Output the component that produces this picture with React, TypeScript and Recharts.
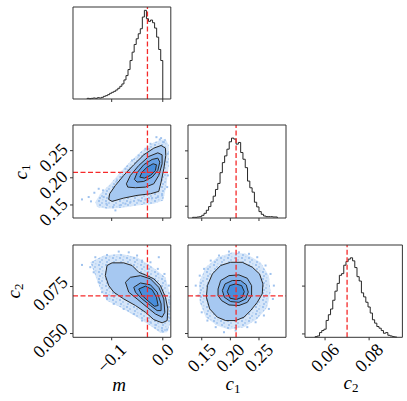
import React from 'react';
import { ComposedChart, Scatter, XAxis, YAxis } from 'recharts';

const FONT = '"Liberation Serif", "Times New Roman", serif';
const FS = 18;

// ---------- truths ----------
const TRUTH_M = -0.03;
const TRUTH_C1 = 0.21;
const TRUTH_C2 = 0.07;

// ---------- axis domains & ticks ----------
const M_DOMAIN: [number, number] = [-0.1757, 0.0157];
const C1_DOMAIN: [number, number] = [0.126, 0.2972];
const C2_X_DOMAIN: [number, number] = [0.0509, 0.0951];
const C2_Y_DOMAIN: [number, number] = [0.048, 0.0971];

const M_TICKS = [-0.1, 0.0];
const M_TICK_LABELS = ['−0.1', '0.0'];
const C1_TICKS = [0.15, 0.2, 0.25];
const C1_TICK_LABELS = ['0.15', '0.20', '0.25'];
const C2_X_TICKS = [0.06, 0.08];
const C2_X_TICK_LABELS = ['0.06', '0.08'];
const C2_Y_TICKS = [0.05, 0.075];
const C2_Y_TICK_LABELS = ['0.050', '0.075'];

// ---------- 1D histograms ----------
const M_HIST_START = -0.148;
const M_HIST_BIN = 0.004;
const M_HIST = [2, 1, 2, 3, 2, 4, 3, 5, 8, 10, 13, 17, 20, 23, 27, 32, 38, 45, 57, 70, 88, 115, 140, 163, 180, 195, 210, 245, 265, 240, 232, 236, 228, 212, 185, 148, 115];
const M_HIST_TOP = 275;

const C1_HIST_START = 0.134;
const C1_HIST_BIN = 0.004;
const C1_HIST = [2, 2, 3, 4, 8, 14, 23, 34, 48, 65, 85, 103, 135, 165, 185, 205, 227, 238, 235, 220, 225, 195, 175, 150, 110, 90, 77, 47, 33, 19, 11, 6, 4, 4, 4, 3, 3];
const C1_HIST_TOP = 277;
const C1_HIST_TICKS = [35, 118, 200];

const C2_HIST_START = 0.0555;
const C2_HIST_BIN = 0.001;
const C2_HIST = [2, 4, 14, 20, 24, 50, 67, 84, 110, 137, 160, 184, 189, 214, 225, 232, 236, 227, 207, 180, 167, 132, 120, 104, 90, 72, 52, 42, 32, 27, 20, 12, 14, 6, 4, 2, 1];
const C2_HIST_TOP = 274;
const C2_HIST_TICKS = [10, 152];

// ---------- 2D: c1 vs m ----------
const A_HALO = [[-0.132, 0.1553], [-0.1222, 0.1706], [-0.1025, 0.189], [-0.0829, 0.2105], [-0.0633, 0.2301], [-0.0405, 0.2503], [-0.0176, 0.2656], [0.0053, 0.2718], [0.0118, 0.2595], [0.0118, 0.2227], [0.0072, 0.186], [0.0007, 0.1584], [-0.0176, 0.1523], [-0.0503, 0.1492], [-0.0829, 0.1443], [-0.1091, 0.1431], [-0.1287, 0.1461]];
const A_DOTS = [[-0.1581, 0.1602], [-0.145, 0.1646], [-0.1405, 0.1566], [-0.1339, 0.1725], [-0.1254, 0.1798], [-0.1169, 0.1768], [-0.1156, 0.1646], [-0.1104, 0.1523], [-0.0973, 0.1461], [-0.0927, 0.14], [-0.0842, 0.1492], [-0.0731, 0.1523], [-0.0633, 0.1553], [-0.047, 0.1584], [-0.0339, 0.1602], [-0.0209, 0.1627], [-0.0097, 0.1646], [-0.0013, 0.1676], [0.0086, 0.1829], [0.0099, 0.2044], [0.0086, 0.2289], [0.0099, 0.2442], [0.002, 0.2656], [-0.0058, 0.2705], [-0.0033, 0.273], [-0.0124, 0.2748], [-0.0241, 0.2626], [-0.0339, 0.2534], [-0.047, 0.2411], [-0.0601, 0.2319], [-0.0731, 0.2166], [-0.0829, 0.2013], [-0.0895, 0.1952]];
const A_L0 = [[-0.1058, 0.1602], [-0.1039, 0.1706], [-0.0927, 0.186], [-0.0764, 0.2044], [-0.0568, 0.224], [-0.0372, 0.2423], [-0.0176, 0.2546], [-0.0033, 0.2595], [0.0053, 0.2546], [0.0059, 0.2411], [0.002, 0.2166], [-0.0033, 0.1921], [-0.0078, 0.175], [-0.0241, 0.1706], [-0.0503, 0.1676], [-0.0764, 0.1627], [-0.0993, 0.1566]];
const A_L1 = [[-0.0712, 0.189], [-0.0633, 0.2044], [-0.047, 0.2227], [-0.0274, 0.2393], [-0.0097, 0.246], [-0.0013, 0.2423], [-0.0013, 0.2258], [-0.0078, 0.2044], [-0.0176, 0.189], [-0.0339, 0.1829], [-0.0535, 0.1817], [-0.0686, 0.1829]];
const A_L2 = [[-0.0555, 0.197], [-0.0503, 0.2093], [-0.0372, 0.224], [-0.0209, 0.2338], [-0.0097, 0.2362], [-0.0058, 0.2289], [-0.0097, 0.2135], [-0.0209, 0.2013], [-0.0372, 0.1933], [-0.0503, 0.1921]];
const A_L3 = [[-0.045, 0.2013], [-0.0405, 0.2105], [-0.0307, 0.2197], [-0.0189, 0.2258], [-0.0124, 0.224], [-0.0144, 0.2135], [-0.0241, 0.2044], [-0.0359, 0.1994]];

// ---------- 2D: c2 vs m ----------
const B_HALO = [[-0.1418, 0.0879], [-0.1156, 0.0915], [-0.0829, 0.0924], [-0.0503, 0.0906], [-0.0241, 0.0862], [0.0053, 0.0799], [0.015, 0.0702], [0.015, 0.056], [0.0086, 0.0507], [-0.0046, 0.0503], [-0.0241, 0.0542], [-0.0503, 0.0587], [-0.0829, 0.064], [-0.1091, 0.0675], [-0.1222, 0.0737], [-0.132, 0.0808]];
const B_DOTS = [[-0.1581, 0.0865], [-0.132, 0.0906], [-0.1091, 0.0918], [-0.0862, 0.0936], [-0.0666, 0.0932], [-0.0503, 0.0915], [-0.0405, 0.0888], [-0.0241, 0.0879], [-0.0097, 0.0844], [0.0033, 0.0817], [0.0118, 0.0755], [0.0125, 0.0666], [0.0105, 0.0587], [0.0086, 0.0521], [-0.0013, 0.0516], [-0.0144, 0.0546], [-0.0241, 0.056], [-0.0405, 0.0569], [-0.0568, 0.0604], [-0.0764, 0.0631], [-0.096, 0.0658], [-0.1091, 0.0684], [-0.1189, 0.072], [-0.1254, 0.0773], [-0.1352, 0.0826], [-0.1418, 0.0853], [-0.0078, 0.0906]];
const B_L0 = [[-0.1091, 0.0862], [-0.0993, 0.0876], [-0.0764, 0.0876], [-0.0601, 0.0862], [-0.047, 0.0826], [-0.0307, 0.0808], [-0.0176, 0.0791], [-0.0046, 0.0755], [0.0053, 0.0693], [0.0099, 0.0631], [0.0086, 0.0569], [-0.0013, 0.0557], [-0.0176, 0.0574], [-0.0339, 0.0613], [-0.0535, 0.0649], [-0.0764, 0.0684], [-0.096, 0.072], [-0.1058, 0.0755], [-0.1124, 0.0808]];
const B_L1 = [[-0.0731, 0.0773], [-0.0633, 0.0799], [-0.0437, 0.0808], [-0.0241, 0.0791], [-0.0078, 0.0746], [0.002, 0.0684], [0.004, 0.0613], [-0.0013, 0.0587], [-0.0144, 0.0604], [-0.0307, 0.064], [-0.0503, 0.0684], [-0.0666, 0.072]];
const B_L2 = [[-0.0568, 0.0746], [-0.0437, 0.0769], [-0.0241, 0.0759], [-0.011, 0.072], [-0.0033, 0.0658], [-0.0033, 0.0622], [-0.011, 0.0622], [-0.0241, 0.0649], [-0.0405, 0.0684], [-0.0535, 0.072]];
const B_L3 = [[-0.047, 0.0737], [-0.0339, 0.0752], [-0.0209, 0.0734], [-0.0124, 0.0693], [-0.0091, 0.0649], [-0.0163, 0.0645], [-0.0274, 0.067], [-0.0405, 0.0702]];

// ---------- 2D: c2 vs c1 ----------
const C_HALO = [[0.1454, 0.0773], [0.157, 0.0853], [0.1773, 0.0906], [0.2034, 0.0932], [0.2267, 0.0924], [0.2528, 0.0879], [0.2673, 0.0808], [0.2702, 0.072], [0.2644, 0.064], [0.247, 0.0578], [0.2238, 0.0534], [0.1976, 0.0521], [0.1773, 0.0542], [0.157, 0.0587], [0.1465, 0.0666]];
const C_DOTS = [[0.1395, 0.0755], [0.1465, 0.0808], [0.1541, 0.0844], [0.1657, 0.0888], [0.1802, 0.0915], [0.1976, 0.0936], [0.215, 0.0932], [0.2325, 0.0924], [0.247, 0.0906], [0.2615, 0.0862], [0.2702, 0.0817], [0.276, 0.0755], [0.2743, 0.0684], [0.2673, 0.0631], [0.2586, 0.0596], [0.2441, 0.056], [0.2296, 0.0534], [0.2092, 0.0516], [0.1889, 0.0507], [0.1744, 0.0534], [0.1599, 0.0569], [0.15, 0.0613], [0.1442, 0.0702]];
const C_L0 = [[0.1599, 0.0755], [0.1686, 0.0817], [0.1831, 0.0862], [0.2005, 0.0879], [0.2208, 0.0879], [0.2383, 0.0853], [0.251, 0.0817], [0.2569, 0.0764], [0.2557, 0.0711], [0.247, 0.0666], [0.2354, 0.0622], [0.2238, 0.0587], [0.2092, 0.0569], [0.1918, 0.0569], [0.1773, 0.0587], [0.1639, 0.0631], [0.1581, 0.0693]];
const C_L1 = [[0.1785, 0.0737], [0.1831, 0.0782], [0.1976, 0.0808], [0.215, 0.0812], [0.2296, 0.0794], [0.2371, 0.0755], [0.2371, 0.0702], [0.2296, 0.0666], [0.215, 0.0649], [0.1976, 0.0652], [0.1848, 0.0675], [0.1785, 0.0702]];
const C_L2 = [[0.186, 0.0729], [0.1907, 0.0764], [0.2034, 0.0782], [0.2179, 0.0782], [0.2278, 0.0759], [0.2313, 0.072], [0.2267, 0.0684], [0.215, 0.0666], [0.2005, 0.067], [0.1895, 0.0693]];
const C_L3 = [[0.1947, 0.0723], [0.1988, 0.0755], [0.2092, 0.0764], [0.2197, 0.0755], [0.2243, 0.0723], [0.2208, 0.0693], [0.2104, 0.0681], [0.1994, 0.0688]];

// ---------- styles ----------
const RED = '#f52a2a';
const LINE = '#262626';
const FRAME = '#333333';
const DOT = '#9fc2ee';
const LV = ['#a6c8f1', '#86b4eb', '#66a0e4', '#488ddb'];

// ---------- helpers ----------
type Pt = { x: number; y: number };
const toPts = (arr: number[][]): Pt[] => arr.map(([x, y]) => ({ x, y }));
const closed = (arr: number[][]): Pt[] => {
  const p = toPts(arr);
  return [...p, p[0]];
};
const stepPts = (start: number, bin: number, counts: number[]): Pt[] => {
  const pts: Pt[] = [{ x: start, y: 0 }];
  counts.forEach((c, i) => {
    pts.push({ x: start + i * bin, y: c });
    pts.push({ x: start + (i + 1) * bin, y: c });
  });
  pts.push({ x: start + counts.length * bin, y: 0 });
  return pts;
};

const Empty = () => <g />;
const DotSq = (p: any) => <rect x={p.cx - 1} y={p.cy - 1} width={2} height={2} fill={DOT} />;

const textLen = (s: string) => {
  let L = 0;
  for (const ch of s) L += ch === '.' ? 0.25 : ch === '−' ? 0.564 : 0.5;
  return L * FS;
};
const lookup = (ticks: number[], labels: string[], v: number) => {
  const i = ticks.findIndex((t) => Math.abs(t - v) < 1e-9);
  return i >= 0 ? labels[i] : '';
};
const makeXTick = (ticks: number[], labels: string[]) => (p: any) => {
  const s = lookup(ticks, labels, p.payload.value);
  const box = (textLen(s) + 0.7 * FS) / 2.83;
  const cx = p.x;
  const cy = p.y + 2 + box;
  return (
    <text x={cx} y={cy} transform={`rotate(-45 ${cx} ${cy})`} textAnchor="middle" dominantBaseline="central" fontFamily={FONT} fontSize={FS} fill="#000">
      {s}
    </text>
  );
};
const makeYTick = (ticks: number[], labels: string[]) => (p: any) => {
  const s = lookup(ticks, labels, p.payload.value);
  const box = (textLen(s) + 0.7 * FS) / 2.83;
  const cx = p.x - 1 - box;
  const cy = p.y + 7;
  return (
    <text x={cx} y={cy} transform={`rotate(-45 ${cx} ${cy})`} textAnchor="middle" dominantBaseline="central" fontFamily={FONT} fontSize={FS} fill="#000">
      {s}
    </text>
  );
};

const poly = (key: string, pts: number[][], fill: string, stroke: string, extra: any = {}) => (
  <Scatter key={key} data={closed(pts)} shape={Empty} isAnimationActive={false} line={{ fill, stroke, strokeWidth: 1, strokeLinejoin: 'round', ...extra }} />
);
const vline = (key: string, x: number, yd: [number, number]) => (
  <Scatter key={key} data={[{ x, y: yd[0] }, { x, y: yd[1] }]} shape={Empty} isAnimationActive={false} line={{ stroke: RED, strokeWidth: 1.3, strokeDasharray: '5 2.5', fill: 'none' }} />
);
const hline = (key: string, y: number, xd: [number, number]) => (
  <Scatter key={key} data={[{ x: xd[0], y }, { x: xd[1], y }]} shape={Empty} isAnimationActive={false} line={{ stroke: RED, strokeWidth: 1.3, strokeDasharray: '5 2.5', fill: 'none' }} />
);
const frame = (key: string, xd: [number, number], yd: [number, number]) => (
  <Scatter
    key={key}
    data={[{ x: xd[0], y: yd[0] }, { x: xd[1], y: yd[0] }, { x: xd[1], y: yd[1] }, { x: xd[0], y: yd[1] }, { x: xd[0], y: yd[0] }]}
    shape={Empty}
    isAnimationActive={false}
    line={{ stroke: FRAME, strokeWidth: 1, fill: 'none' }}
  />
);
const hist = (key: string, start: number, bin: number, counts: number[]) => (
  <Scatter key={key} data={stepPts(start, bin, counts)} shape={Empty} isAnimationActive={false} line={{ stroke: LINE, strokeWidth: 1, fill: 'none' }} />
);
const density = (k: string, halo: number[][], dots: number[][], levels: number[][][]) => [
  poly(k + 'h', halo, 'url(#speck)', 'none'),
  <Scatter key={k + 'd'} data={toPts(dots)} shape={DotSq} isAnimationActive={false} />,
  ...levels.map((lv, i) => poly(k + 'l' + i, lv, LV[i], LINE)),
];

// ---------- layout ----------
const COL_L = [72.7, 188.3, 304.6];
const COL_W = [97.8, 98, 97.4];
const ROW_T = [6.5, 124.7, 244.7];
const ROW_H = [92, 93, 92.3];
const PL = 60, PT = 10, PR = 10, PB = 60;

type PanelProps = {
  col: number;
  row: number;
  xd: [number, number];
  yd: [number, number];
  xTicks: number[];
  xLabels?: string[];
  yTicks?: number[];
  yLabels?: string[];
  children: React.ReactNode;
};

function Panel({ col, row, xd, yd, xTicks, xLabels, yTicks, yLabels, children }: PanelProps) {
  const left = COL_L[col], top = ROW_T[row], w = COL_W[col], h = ROW_H[row];
  return (
    <div style={{ position: 'absolute', left: left - PL, top: top - PT }}>
      <ComposedChart width={w + PL + PR} height={h + PT + PB} margin={{ top: PT, right: PR, left: 0, bottom: 0 }}>
        <XAxis
          type="number"
          dataKey="x"
          domain={xd}
          ticks={xTicks}
          interval={0}
          height={PB}
          tickSize={3}
          tickMargin={0}
          axisLine={false}
          tickLine={{ stroke: FRAME }}
          tick={xLabels ? makeXTick(xTicks, xLabels) : Empty}
        />
        <YAxis
          type="number"
          dataKey="y"
          domain={yd}
          ticks={yTicks && yTicks.length ? yTicks : [yd[0]]}
          interval={0}
          width={PL}
          tickSize={3}
          tickMargin={0}
          axisLine={false}
          tickLine={yTicks && yTicks.length ? { stroke: FRAME } : false}
          tick={yLabels ? makeYTick(yTicks || [], yLabels) : Empty}
        />
        {children}
      </ComposedChart>
    </div>
  );
}

export default function App() {
  const mHY: [number, number] = [0, M_HIST_TOP];
  const c1HY: [number, number] = [0, C1_HIST_TOP];
  const c2HY: [number, number] = [0, C2_HIST_TOP];
  return (
    <div style={{ position: 'absolute', left: 0, top: 0, width: 407, height: 401, background: '#fff', overflow: 'hidden' }}>
      <svg width={0} height={0} style={{ position: 'absolute' }}>
        <defs>
          <pattern id="speck" x={0} y={0} width={7} height={7} patternUnits="userSpaceOnUse">
            <rect x={0} y={0} width={7} height={7} fill="#d6e6f9" />
            <rect x={1} y={1} width={2} height={2} fill="#a3c5ef" />
            <rect x={4} y={3} width={2} height={2} fill="#b2cff2" />
            <rect x={2} y={5} width={2} height={2} fill="#a9c9f0" />
            <rect x={5} y={0} width={1.5} height={1.5} fill="#bdd6f4" />
          </pattern>
        </defs>
      </svg>

      {/* m histogram */}
      <Panel col={0} row={0} xd={M_DOMAIN} yd={mHY} xTicks={M_TICKS}>
        {hist('h', M_HIST_START, M_HIST_BIN, M_HIST)}
        {vline('v', TRUTH_M, mHY)}
        {frame('f', M_DOMAIN, mHY)}
      </Panel>

      {/* c1 vs m */}
      <Panel col={0} row={1} xd={M_DOMAIN} yd={C1_DOMAIN} xTicks={M_TICKS} yTicks={C1_TICKS} yLabels={C1_TICK_LABELS}>
        {density('a', A_HALO, A_DOTS, [A_L0, A_L1, A_L2, A_L3])}
        {vline('v', TRUTH_M, C1_DOMAIN)}
        {hline('hl', TRUTH_C1, M_DOMAIN)}
        {frame('f', M_DOMAIN, C1_DOMAIN)}
      </Panel>

      {/* c1 histogram */}
      <Panel col={1} row={1} xd={C1_DOMAIN} yd={c1HY} xTicks={C1_TICKS} yTicks={C1_HIST_TICKS}>
        {hist('h', C1_HIST_START, C1_HIST_BIN, C1_HIST)}
        {vline('v', TRUTH_C1, c1HY)}
        {frame('f', C1_DOMAIN, c1HY)}
      </Panel>

      {/* c2 vs m */}
      <Panel col={0} row={2} xd={M_DOMAIN} yd={C2_Y_DOMAIN} xTicks={M_TICKS} xLabels={M_TICK_LABELS} yTicks={C2_Y_TICKS} yLabels={C2_Y_TICK_LABELS}>
        {density('b', B_HALO, B_DOTS, [B_L0, B_L1, B_L2, B_L3])}
        {vline('v', TRUTH_M, C2_Y_DOMAIN)}
        {hline('hl', TRUTH_C2, M_DOMAIN)}
        {frame('f', M_DOMAIN, C2_Y_DOMAIN)}
      </Panel>

      {/* c2 vs c1 */}
      <Panel col={1} row={2} xd={C1_DOMAIN} yd={C2_Y_DOMAIN} xTicks={C1_TICKS} xLabels={C1_TICK_LABELS} yTicks={C2_Y_TICKS}>
        {density('c', C_HALO, C_DOTS, [C_L0, C_L1, C_L2, C_L3])}
        {vline('v', TRUTH_C1, C2_Y_DOMAIN)}
        {hline('hl', TRUTH_C2, C1_DOMAIN)}
        {frame('f', C1_DOMAIN, C2_Y_DOMAIN)}
      </Panel>

      {/* c2 histogram */}
      <Panel col={2} row={2} xd={C2_X_DOMAIN} yd={c2HY} xTicks={C2_X_TICKS} xLabels={C2_X_TICK_LABELS} yTicks={C2_HIST_TICKS}>
        {hist('h', C2_HIST_START, C2_HIST_BIN, C2_HIST)}
        {vline('v', TRUTH_C2, c2HY)}
        {frame('f', C2_X_DOMAIN, c2HY)}
      </Panel>

      {/* axis labels */}
      <svg width={407} height={401} style={{ position: 'absolute', left: 0, top: 0, pointerEvents: 'none' }}>
        <g fontFamily={FONT} fontStyle="italic" fill="#000">
          <text x={119} y={391} fontSize={19} textAnchor="middle">m</text>
          <text x={233} y={390} fontSize={19} textAnchor="middle">
            c<tspan fontSize={13} fontStyle="normal" dy={3}>1</tspan>
          </text>
          <text x={351} y={389} fontSize={19} textAnchor="middle">
            c<tspan fontSize={13} fontStyle="normal" dy={3}>2</tspan>
          </text>
          <text transform="translate(27,172) rotate(-90)" fontSize={19} textAnchor="middle">
            c<tspan fontSize={13} fontStyle="normal" dy={3}>1</tspan>
          </text>
          <text transform="translate(20,291) rotate(-90)" fontSize={19} textAnchor="middle">
            c<tspan fontSize={13} fontStyle="normal" dy={3}>2</tspan>
          </text>
        </g>
      </svg>
    </div>
  );
}
